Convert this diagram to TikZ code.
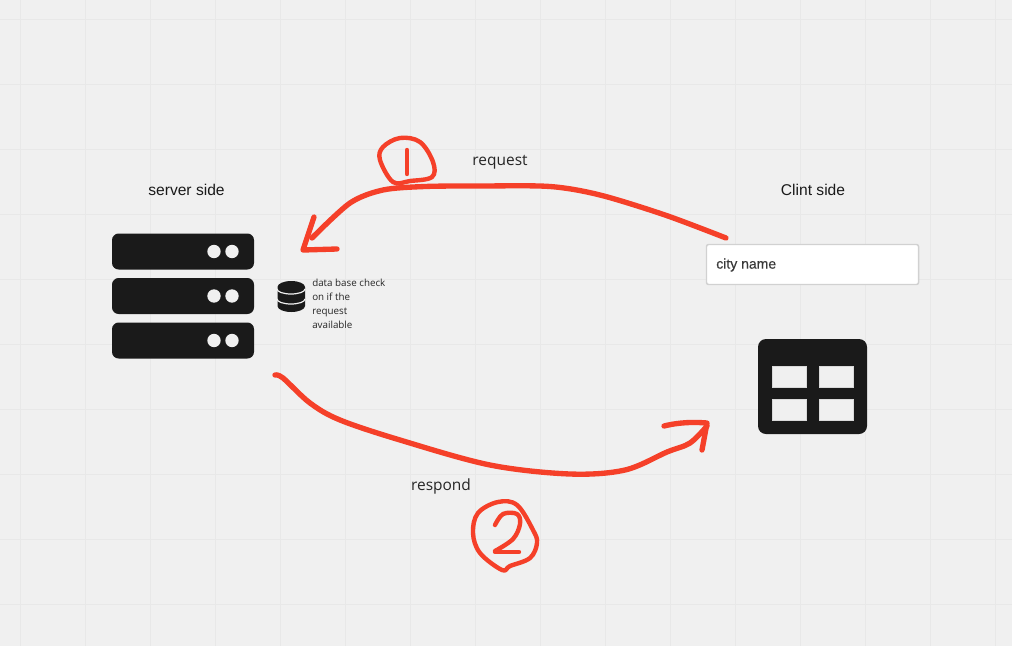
\documentclass[tikz,border=0pt]{standalone}
\usepackage{fontspec}
\setmainfont{Liberation Sans}
\newfontfamily\opensans{Open Sans}
\definecolor{bgcol}{HTML}{F0F0F0}
\definecolor{gridcol}{HTML}{E8E8E8}
\definecolor{inkcol}{HTML}{1A1A1A}
\definecolor{redcol}{HTML}{F54029}
\tikzset{
  gridline/.style={gridcol,line width=0.7pt},
  redline/.style={redcol,line width=4pt,line cap=round,line join=round},
  redthin/.style={redcol,line width=3.3pt,line cap=round,line join=round},
  sidelabel/.style={font=\fontsize{11.7}{14}\selectfont,text=inkcol,inner sep=0pt},
  flowlabel/.style={font=\opensans\fontsize{11.6}{14}\selectfont,text=black!85,inner sep=0pt},
  rack/.style={fill=inkcol,rounded corners=5pt,minimum width=106.5pt,minimum height=27pt,inner sep=0pt},
  led/.style={circle,fill=bgcol,minimum size=10pt,inner sep=0pt},
  cell/.style={fill=bgcol,draw=white!70!gray,line width=0.4pt,inner sep=0pt,minimum width=25.5pt,minimum height=15.5pt}
}
\begin{document}
\begin{tikzpicture}[x=0.75pt,y=-0.75pt]
\useasboundingbox (0,0) rectangle (1012,646);
\fill[bgcol] (0,0) rectangle (1012,646);
\draw[gridline] (20,0) -- (20,646);
\draw[gridline] (85,0) -- (85,646);
\draw[gridline] (150,0) -- (150,646);
\draw[gridline] (215,0) -- (215,646);
\draw[gridline] (280,0) -- (280,646);
\draw[gridline] (345,0) -- (345,646);
\draw[gridline] (410,0) -- (410,646);
\draw[gridline] (475,0) -- (475,646);
\draw[gridline] (540,0) -- (540,646);
\draw[gridline] (605,0) -- (605,646);
\draw[gridline] (670,0) -- (670,646);
\draw[gridline] (735,0) -- (735,646);
\draw[gridline] (800,0) -- (800,646);
\draw[gridline] (865,0) -- (865,646);
\draw[gridline] (930,0) -- (930,646);
\draw[gridline] (995,0) -- (995,646);
\draw[gridline] (0,19) -- (1012,19);
\draw[gridline] (0,84) -- (1012,84);
\draw[gridline] (0,149) -- (1012,149);
\draw[gridline] (0,214) -- (1012,214);
\draw[gridline] (0,279) -- (1012,279);
\draw[gridline] (0,344) -- (1012,344);
\draw[gridline] (0,409) -- (1012,409);
\draw[gridline] (0,474) -- (1012,474);
\draw[gridline] (0,539) -- (1012,539);
\draw[gridline] (0,604) -- (1012,604);
% server side
\node[sidelabel] (serverlabel) at (186.5,190) {server side};
\node[rack] (rack1) at (183,251.5) {};
\node[rack] (rack2) at (183,296) {};
\node[rack] (rack3) at (183,340.5) {};
\node[led] (led1a) at (214,251.5) {};
\node[led] (led1b) at (232,251.5) {};
\node[led] (led2a) at (214,296) {};
\node[led] (led2b) at (232,296) {};
\node[led] (led3a) at (214,340.5) {};
\node[led] (led3b) at (232,340.5) {};
% data base icon
\fill[inkcol] (277.5,287) arc[x radius=13.75,y radius=6,start angle=180,end angle=360]
  -- (305,306) arc[x radius=13.75,y radius=6,start angle=0,end angle=180] -- cycle;
\draw[bgcol,line width=0.9pt] (277,289) arc[x radius=14,y radius=5,start angle=180,end angle=0];
\draw[bgcol,line width=0.9pt] (277,299) arc[x radius=14,y radius=5,start angle=180,end angle=0];
\node[font=\opensans\fontsize{7.35}{10.5}\selectfont,text=black!85,inner sep=0pt,align=left,anchor=north west] (dbnote) at (312,278.5) {data base check\\on if the\\request\\available};
% client side
\node[sidelabel] (clientlabel) at (813,190) {Clint side};
\node[fill=white,draw=black!18,line width=1.1pt,rounded corners=1.5pt,minimum width=159pt,minimum height=30pt,inner sep=0pt] (cityinput) at (812.5,264.5) {};
\node[font=\fontsize{10.5}{12}\selectfont,text=black!78,inner sep=0pt,anchor=west] (citytext) at (716,265) {\addfontfeature{FakeBold=0.3}city name};
\node[fill=inkcol,rounded corners=6pt,minimum width=81.75pt,minimum height=71.25pt,inner sep=0pt] (tableicon) at (812.5,386.5) {};
\node[cell] (cell1) at (789,376.5) {};
\node[cell] (cell2) at (836,376.5) {};
\node[cell] (cell3) at (789,410) {};
\node[cell] (cell4) at (836,410) {};
% request arrow
\coordinate (reqstart) at (726,238);
\coordinate (reqend) at (312,238);
\coordinate (reqtip) at (303,250);
\draw[redline] plot[smooth,tension=0.5] coordinates {(reqstart) (665,215) (600,195) (550,186.5) (480,186) (425,186.5) (383,190) (350,203) (reqend)};
\draw[redline] (314,217) -- (reqtip) -- (337,249);
\node[flowlabel] (reqlabel) at (500,162.5) {request};
% badge one
\draw[redthin] plot[smooth cycle,tension=0.6] coordinates {(393,182) (380,160) (383,147) (400,138) (420,142) (433,162) (432,177) (410,181)};
\draw[redthin] (407,150) -- (407,174);
% respond arrow
\coordinate (respstart) at (275,375);
\coordinate (respend) at (707,426);
\coordinate (resptip) at (707,423);
\draw[redline] plot[smooth,tension=0.55] coordinates {(respstart) (283,378) (310,403) (340,420) (400,440) (490,465) (570,474) (625,470) (667,452) (690,443) (respend)};
\draw[redline] (664,426) .. controls (680,422) and (695,422) .. (resptip) -- (702,450);
\node[flowlabel] (resplabel) at (441,486.5) {respond};
% badge two
\draw[redthin] plot[smooth cycle,tension=0.6] coordinates {(502,570) (480,553) (473,533) (478,513) (498,502) (517,505) (533,530) (537,543) (530,558) (510,566)};
\draw[redthin] plot[smooth,tension=0.6] coordinates {(495,525) (503,514) (517,514) (520,524) (513,539) (495,551)};
\draw[redthin] (495,552) -- (519,552);
\end{tikzpicture}
\end{document}
